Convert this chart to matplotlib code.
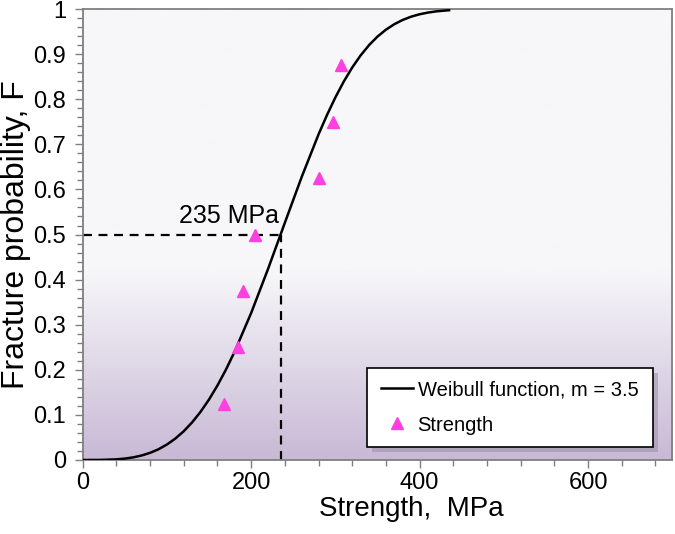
import matplotlib.pyplot as plt
from matplotlib.colors import LinearSegmentedColormap
from matplotlib.ticker import MultipleLocator
from matplotlib.patches import Rectangle
import matplotlib.transforms as mtransforms
import numpy as np

plt.rcParams['font.family'] = ['Liberation Sans', 'DejaVu Sans']

# Weibull curve
curve_x = [0, 20, 40, 50, 60, 70, 80, 90, 100, 110, 120, 130, 140, 150, 160,
           170, 180, 200, 220, 240, 260, 280, 290, 300, 310, 320, 330, 340,
           350, 360, 370, 380, 390, 400, 410, 420, 435]
curve_f = [0.0, 0.0001, 0.0014, 0.0031, 0.0058, 0.0100, 0.0158, 0.0238,
           0.0343, 0.0475, 0.0639, 0.0836, 0.1070, 0.1342, 0.1653, 0.2001,
           0.2388, 0.3259, 0.4234, 0.5260, 0.6277, 0.7221, 0.7649, 0.8041,
           0.8394, 0.8705, 0.8973, 0.9201, 0.9390, 0.9543, 0.9665, 0.9760,
           0.9832, 0.9885, 0.9923, 0.9950, 0.9975]

# measured strengths
strength = [168, 184, 190, 205, 280, 297, 307]
prob = [0.125, 0.25, 0.375, 0.5, 0.625, 0.75, 0.875]

median_strength = 235
median_f = 0.5

fig = plt.figure(figsize=(6.75, 5.34), dpi=100)
ax = fig.add_axes([0.1225, 0.1386, 0.8735, 0.8444])

# background gradient
cmap = LinearSegmentedColormap.from_list(
    'bg', [(0.0, '#c8b9d5'), (0.42, '#f7f7f9'), (1.0, '#f7f7f9')])
grad = np.linspace(0, 1, 256).reshape(-1, 1)
ax.imshow(grad, extent=[0, 700, 0, 1], origin='lower', aspect='auto',
          cmap=cmap, zorder=0)

ax.plot(curve_x, curve_f, color='black', lw=1.8, zorder=3,
        label='Weibull function, m = 3.5')
ax.plot(strength, prob, linestyle='none', marker='^', markersize=8,
        color='#ff40e0', zorder=4, label='Strength')

ax.plot([0, median_strength], [median_f, median_f], color='black', lw=1.6,
        linestyle=(0, (4, 3)), zorder=2)
ax.plot([median_strength, median_strength], [0, median_f], color='black',
        lw=1.6, linestyle=(0, (4, 3)), zorder=2)
ax.text(median_strength - 2, median_f + 0.014, '235 MPa', ha='right',
        va='bottom', fontsize=18)

ax.set_xlim(0, 700)
ax.set_ylim(0, 1)
ax.xaxis.set_major_locator(MultipleLocator(200))
ax.xaxis.set_minor_locator(MultipleLocator(40))
ax.yaxis.set_major_locator(MultipleLocator(0.1))
ax.yaxis.set_minor_locator(MultipleLocator(0.02))
ax.yaxis.set_major_formatter(plt.FuncFormatter(lambda v, p: '%g' % round(v, 1)))

for s in ax.spines.values():
    s.set_color('#7f7f7f')
    s.set_linewidth(1.3)
ax.tick_params(which='both', direction='out', color='#7f7f7f', width=1)
ax.tick_params(which='major', length=6, labelsize=17)
ax.tick_params(axis='y', which='major', pad=6)
ax.tick_params(axis='x', which='major', pad=3)
ax.tick_params(which='minor', length=4)

ax.set_xlabel('Strength,  MPa', fontsize=20)
ax.xaxis.set_label_coords(0.558, -0.08, transform=ax.transAxes)
ax.xaxis.label.set_va('top')
ax.set_ylabel('Fracture probability, F', fontsize=23)
ax.yaxis.set_label_coords(-0.087, 0.5, transform=ax.transAxes)

# legend box with shadow
box = (0.482, 0.029, 0.485, 0.175)
shadow_tr = mtransforms.offset_copy(ax.transAxes, fig=fig, x=5, y=-5, units='dots')
ax.add_patch(Rectangle(box[:2], box[2], box[3], transform=shadow_tr,
                       facecolor='#9a90a6', alpha=0.55, edgecolor='none',
                       zorder=5, clip_on=False))
ax.add_patch(Rectangle(box[:2], box[2], box[3], transform=ax.transAxes,
                       facecolor='white', edgecolor='black', lw=1.2,
                       zorder=6, clip_on=False))
leg = ax.legend(loc='center', bbox_to_anchor=(box[0] + box[2] / 2, box[1] + box[3] / 2),
                fontsize=14.5, frameon=False, labelspacing=0.8,
                handlelength=1.55, handletextpad=0.25, borderpad=0)
leg.set_zorder(7)

plt.savefig('out.png', dpi=100)
plt.close()
